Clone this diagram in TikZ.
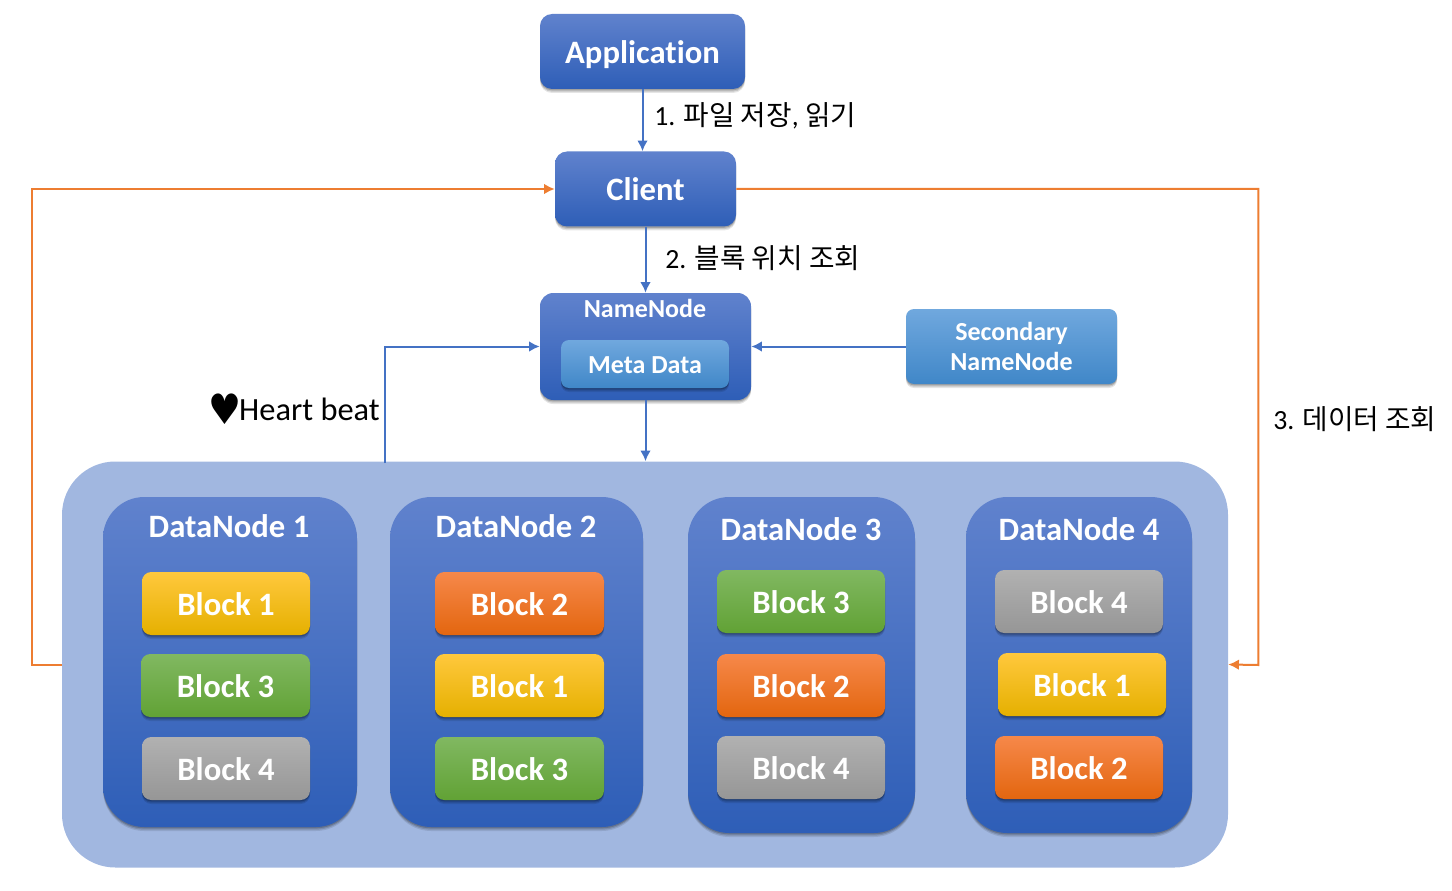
\documentclass[tikz,border=0pt]{standalone}
\usepackage{fontspec}
\setmainfont{Carlito}[Ligatures=NoCommon]
\newfontfamily\kr{Noto Sans CJK KR}
\newfontfamily\sym{DejaVu Sans}
\usetikzlibrary{arrows.meta,shadows}
\definecolor{bgblue}{HTML}{A1B7E0}
\definecolor{arrblue}{HTML}{4472C4}
\definecolor{arrorange}{HTML}{ED7D31}
\definecolor{blueT}{HTML}{6082CD}
\definecolor{blueM}{HTML}{4170C8}
\definecolor{blueB}{HTML}{2E5EB7}
\definecolor{lightT}{HTML}{70A8DE}
\definecolor{lightM}{HTML}{5B9BD5}
\definecolor{lightB}{HTML}{4087C8}
\definecolor{goldT}{HTML}{FFC83D}
\definecolor{goldM}{HTML}{FFC000}
\definecolor{goldB}{HTML}{E5B000}
\definecolor{greenT}{HTML}{81B861}
\definecolor{greenM}{HTML}{70AD47}
\definecolor{greenB}{HTML}{61A235}
\definecolor{orangeT}{HTML}{F6884A}
\definecolor{orangeM}{HTML}{ED7D31}
\definecolor{orangeB}{HTML}{E3660F}
\definecolor{greyT}{HTML}{B1B1B1}
\definecolor{greyM}{HTML}{A5A5A5}
\definecolor{greyB}{HTML}{969696}
\tikzset{
  dim/.style 2 args={minimum width=#1*0.75pt,minimum height=#2*0.75pt,inner sep=0pt},
  softshadow/.style={
    general shadow={shadow xshift=0pt,shadow yshift=-3pt,opacity=.10,fill=black},
    general shadow={shadow xshift=0pt,shadow yshift=-2pt,opacity=.14,fill=black},
    general shadow={shadow xshift=0pt,shadow yshift=-1pt,opacity=.18,fill=black}},
  blueshade/.style={top color=blueT,middle color=blueM,bottom color=blueB},
  lightshade/.style={top color=lightT,middle color=lightM,bottom color=lightB},
  goldshade/.style={top color=goldT,middle color=goldM,bottom color=goldB},
  greenshade/.style={top color=greenT,middle color=greenM,bottom color=greenB},
  orangeshade/.style={top color=orangeT,middle color=orangeM,bottom color=orangeB},
  greyshade/.style={top color=greyT,middle color=greyM,bottom color=greyB},
  mainbox/.style={softshadow,blueshade,rounded corners=9pt,text=white,font=\fontsize{24.5}{28}\selectfont\bfseries,text height=18pt,text depth=0pt},
  infobox/.style={softshadow,lightshade,rounded corners=6pt,text=white,font=\fontsize{19.5}{23}\selectfont\bfseries,align=center},
  datanode/.style={softshadow,blueshade,rounded corners=31pt},
  blockbox/.style={softshadow,rounded corners=7pt,text=white,font=\fontsize{24.5}{28}\selectfont\bfseries,text height=18pt,text depth=0pt},
  dntitle/.style={text=white,font=\fontsize{24.5}{28}\selectfont\bfseries,inner sep=0pt},
  nntitle/.style={text=white,font=\fontsize{19.5}{24}\selectfont\bfseries,inner sep=0pt},
  steplabel/.style={font=\fontsize{20.8}{24}\selectfont,anchor=west,inner sep=0pt},
  bluearrow/.style={draw=arrblue,line width=1.5pt,-{Latex[length=8pt,width=8pt]}},
  orangearrow/.style={draw=arrorange,line width=1.5pt,-{Latex[length=8pt,width=8pt]}},
}
\begin{document}
\begin{tikzpicture}[x=0.75pt,y=-0.75pt]
\useasboundingbox (0,0) rectangle (1452,891);
% container
\node[dim={1166}{406},fill=bgblue,rounded corners=40pt] (big) at (645,664.5) {};
% top nodes
\node[mainbox,dim={205}{75}] (app) at (642.5,51.5) {Application};
\node[mainbox,dim={181}{75}] (client) at (645.5,189) {Client};
\node[softshadow,blueshade,rounded corners=10pt,dim={211}{107}] (nn) at (645.5,346.5) {};
\node[nntitle] (nnt) at (645,308) {NameNode};
\node[infobox,dim={168}{48},text height=13.5pt,text depth=0pt] (meta) at (645,364) {Meta Data};
\node[infobox,dim={211}{75}] (sec) at (1011.5,346.5) {Secondary\\NameNode};
% data nodes
\node[datanode,dim={254}{330}] (d1) at (230,662) {};
\node[datanode,dim={253}{330}] (d2) at (516.5,662) {};
\node[datanode,dim={227}{336}] (d3) at (801.5,665) {};
\node[datanode,dim={226}{336}] (d4) at (1079,665) {};
\node[dntitle] (d1t) at (229,526) {DataNode 1};
\node[dntitle] (d2t) at (516,526) {DataNode 2};
\node[dntitle] (d3t) at (801,529) {DataNode 3};
\node[dntitle] (d4t) at (1079,529) {DataNode 4};
% blocks
\node[blockbox,goldshade,dim={168}{63}] (b11) at (226,603.5) {Block 1};
\node[blockbox,greenshade,dim={169}{63}] (b12) at (225.5,685.5) {Block 3};
\node[blockbox,greyshade,dim={168}{63}] (b13) at (226,768.5) {Block 4};
\node[blockbox,orangeshade,dim={169}{63}] (b21) at (519.5,603.5) {Block 2};
\node[blockbox,goldshade,dim={169}{63}] (b22) at (519.5,685.5) {Block 1};
\node[blockbox,greenshade,dim={169}{63}] (b23) at (519.5,768.5) {Block 3};
\node[blockbox,greenshade,dim={168}{63}] (b31) at (801,601.5) {Block 3};
\node[blockbox,orangeshade,dim={168}{63}] (b32) at (801,685.5) {Block 2};
\node[blockbox,greyshade,dim={168}{63}] (b33) at (801,767.5) {Block 4};
\node[blockbox,greyshade,dim={168}{63}] (b41) at (1079,601.5) {Block 4};
\node[blockbox,goldshade,dim={168}{63}] (b42) at (1082,684.5) {Block 1};
\node[blockbox,orangeshade,dim={168}{63}] (b43) at (1079,767.5) {Block 2};
% labels
\node[steplabel] (l1) at (654,116) {1. {\kr 파일 저장}, {\kr 읽기}};
\node[steplabel] (l2) at (665,258) {2. {\kr 블록 위치 조회}};
\node[steplabel] (l3) at (1273,419) {3. {\kr 데이터 조회}};
\node[anchor=east,inner sep=0pt,font=\fontsize{24.3}{28}\selectfont] (hb) at (380,409.5) {\raisebox{-3pt}{\scalebox{.92}[1.05]{\fontsize{30}{30}\selectfont\sym\symbol{"2665}}}\kern-1.5pt Heart beat};
% connectors
\coordinate (hbstart) at (385,463);
\coordinate (nnbig) at (big.north -| nn.south);
\draw[bluearrow] (app.south) -- (app.south |- client.north);
\draw[bluearrow] (client.south) -- (nn.north);
\draw[bluearrow] (sec.west) -- (nn.east);
\draw[bluearrow] (nn.south) -- (nnbig);
\draw[bluearrow] (hbstart) |- (nn.west);
\draw[orangearrow] (big.west) -- ++(-30,0) |- (client.west);
\draw[orangearrow] (client.east) -| ++(522,476) -- (big.east);
\end{tikzpicture}
\end{document}
